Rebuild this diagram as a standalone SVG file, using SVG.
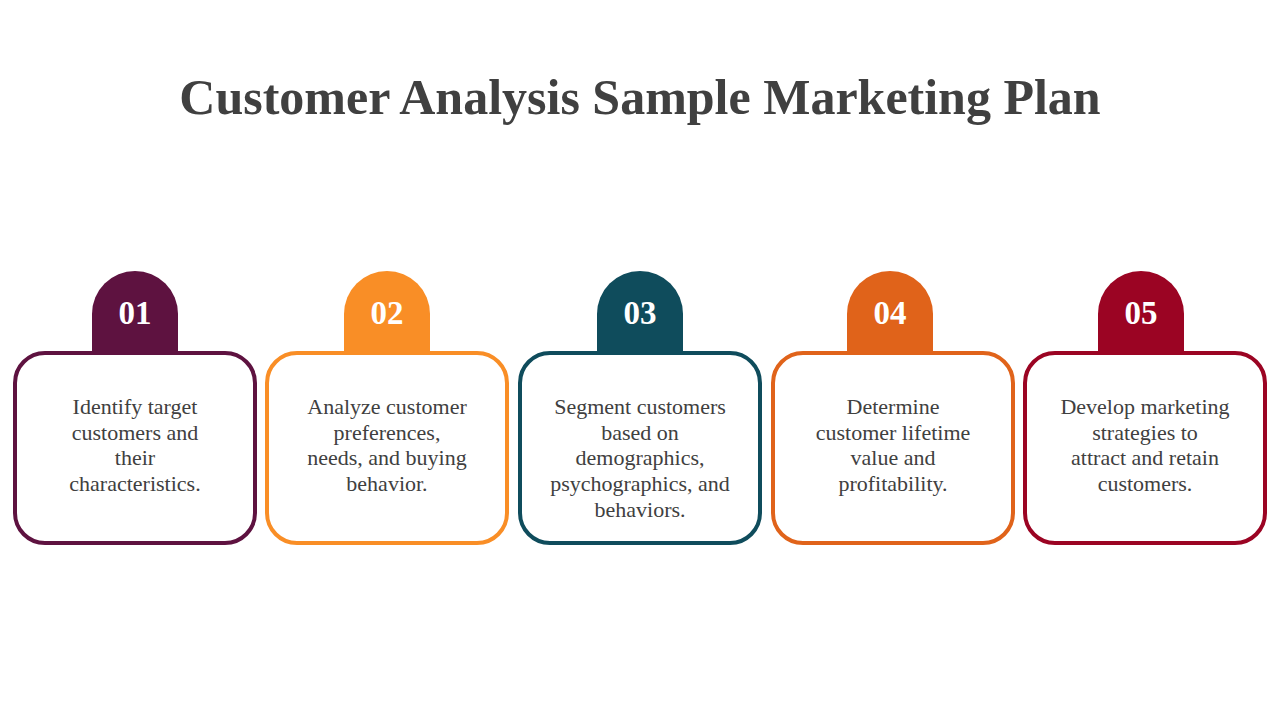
<svg xmlns="http://www.w3.org/2000/svg" width="1280" height="720" viewBox="0 0 1280 720">
<style>
.t{font-family:"Liberation Serif","DejaVu Serif",serif;font-weight:bold;font-size:50px;fill:#404040;text-anchor:middle}
.n{font-family:"Liberation Serif","DejaVu Serif",serif;font-weight:bold;font-size:33px;fill:#fff;text-anchor:middle}
.b{font-family:"Liberation Serif","DejaVu Serif",serif;font-size:22px;fill:#404040;text-anchor:middle}
.box{fill:#fff;stroke-width:4}
</style>
<rect width="1280" height="720" fill="#fff"/>
<text class="t" x="640" y="114">Customer Analysis Sample Marketing Plan</text>
<g id="step1">
<path d="M92,353 V314 A43,43 0 0 1 178,314 V353 Z" fill="#5E1240"/>
<rect class="box" x="15" y="353" width="240" height="190" rx="30" stroke="#5E1240"/>
<text class="n" x="135" y="324">01</text>
<text class="b" x="135" y="414">Identify target</text><text class="b" x="135" y="440">customers and</text><text class="b" x="135" y="465">their</text><text class="b" x="135" y="491">characteristics.</text>
</g>
<g id="step2">
<path d="M344,353 V314 A43,43 0 0 1 430,314 V353 Z" fill="#F98E26"/>
<rect class="box" x="267" y="353" width="240" height="190" rx="30" stroke="#F98E26"/>
<text class="n" x="387" y="324">02</text>
<text class="b" x="387" y="414">Analyze customer</text><text class="b" x="387" y="440">preferences,</text><text class="b" x="387" y="465">needs, and buying</text><text class="b" x="387" y="491">behavior.</text>
</g>
<g id="step3">
<path d="M597,353 V314 A43,43 0 0 1 683,314 V353 Z" fill="#0F4C5C"/>
<rect class="box" x="520" y="353" width="240" height="190" rx="30" stroke="#0F4C5C"/>
<text class="n" x="640" y="324">03</text>
<text class="b" x="640" y="414">Segment customers</text><text class="b" x="640" y="440">based on</text><text class="b" x="640" y="465">demographics,</text><text class="b" x="640" y="491">psychographics, and</text><text class="b" x="640" y="517">behaviors.</text>
</g>
<g id="step4">
<path d="M847,353 V314 A43,43 0 0 1 933,314 V353 Z" fill="#E0631A"/>
<rect class="box" x="773" y="353" width="240" height="190" rx="30" stroke="#E0631A"/>
<text class="n" x="890" y="324">04</text>
<text class="b" x="893" y="414">Determine</text><text class="b" x="893" y="440">customer lifetime</text><text class="b" x="893" y="465">value and</text><text class="b" x="893" y="491">profitability.</text>
</g>
<g id="step5">
<path d="M1098,353 V314 A43,43 0 0 1 1184,314 V353 Z" fill="#9B0423"/>
<rect class="box" x="1025" y="353" width="240" height="190" rx="30" stroke="#9B0423"/>
<text class="n" x="1141" y="324">05</text>
<text class="b" x="1145" y="414">Develop marketing</text><text class="b" x="1145" y="440">strategies to</text><text class="b" x="1145" y="465">attract and retain</text><text class="b" x="1145" y="491">customers.</text>
</g>
<g id="connectors"/>
</svg>
